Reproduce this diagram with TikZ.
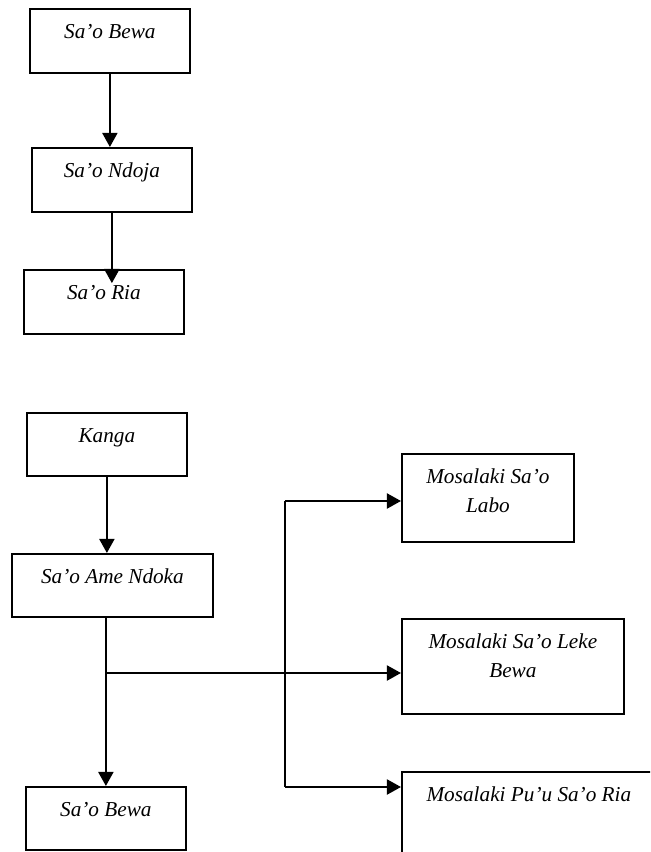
\documentclass[tikz,border=0pt]{standalone}
\usepackage{fontspec}
\setmainfont{Liberation Serif}
\usetikzlibrary{arrows.meta}
\begin{document}
\begin{tikzpicture}[x=0.565pt,y=-0.565pt,
    box/.style={draw, line width=1pt, inner sep=0pt, anchor=north west,
      text height=17pt, align=center, font=\fontsize{12pt}{16pt}\selectfont\itshape},
    arr/.style={line width=1.3pt, -{Triangle[length=8pt,width=8.5pt]}},
    link/.style={line width=0.7pt}]
  \clip (0,0) rectangle (650,852);
  % lajur atas
  \node[box, minimum width=90.4pt, text depth=19.2pt] (bewaA) at (29,8) {Sa’o Bewa};
  \node[box, minimum width=90.4pt, text depth=19.2pt] (ndoja) at (31,147) {Sa’o Ndoja};
  \node[box, minimum width=90.4pt, text depth=19.2pt] (ria) at (23,269) {Sa’o Ria};
  \draw[arr] (bewaA.south) -- (bewaA.south |- ndoja.north);
  \draw[arr] (ndoja.south) -- ([yshift=-8pt]ndoja.south |- ria.north);
  % lajur bawah
  \node[box, minimum width=90.4pt, text depth=18.6pt] (kanga) at (26,412) {Kanga};
  \node[box, minimum width=113.6pt, text depth=18.6pt] (ame) at (11,553) {Sa’o Ame Ndoka};
  \node[box, minimum width=90.4pt, text depth=18.6pt] (bewaB) at (25,786) {Sa’o Bewa};
  \draw[arr] (kanga.south) -- (kanga.south |- ame.north);
  \draw[arr] (ame.south -| bewaB.north) -- (bewaB.north);
  % mosalaki
  \node[box, minimum width=97.2pt, text height=33pt, text depth=16.7pt] (labo) at (401,453) {Mosalaki Sa’o\\Labo};
  \node[box, minimum width=125.4pt, text height=33pt, text depth=20.7pt] (leke) at (401,618) {Mosalaki Sa’o Leke\\Bewa};
  \node[box, minimum width=143.5pt, text depth=36.7pt] (puu) at (401,771) {Mosalaki Pu’u Sa’o Ria};
  \coordinate (fork) at (105,673);
  \coordinate (up) at (285,501);
  \coordinate (down) at (285,787);
  \draw[arr] (fork) -- (fork -| leke.west);
  \draw[link] (up) -- (down);
  \draw[arr] (up) -- (up -| labo.west);
  \draw[arr] (down) -- (down -| puu.west);
\end{tikzpicture}
\end{document}
